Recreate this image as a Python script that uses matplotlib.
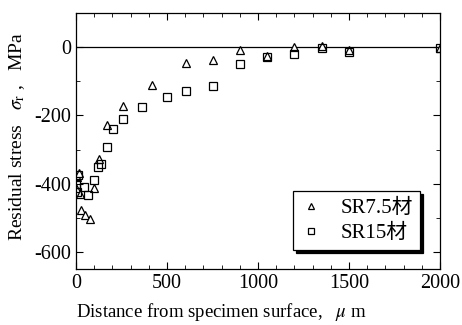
import matplotlib.pyplot as plt
from matplotlib.ticker import MultipleLocator

plt.rcParams['font.family'] = ['Liberation Serif', 'Noto Sans CJK JP']
plt.rcParams['mathtext.fontset'] = 'stix'
plt.rcParams['axes.unicode_minus'] = False

# SR7.5 (triangles)
sr75_x = [0, 5, 15, 20, 30, 50, 75, 100, 128, 172, 260, 415, 602, 750, 900, 1048, 1200, 1350, 1500, 2000]
sr75_y = [-412, -380, -370, -430, -478, -492, -502, -413, -328, -228, -172, -112, -47, -37, -8, -25, -1, 4, -8, -3]

# SR15 (squares)
sr15_x = [0, 5, 10, 45, 68, 98, 120, 140, 172, 205, 260, 365, 502, 602, 750, 900, 1048, 1200, 1350, 1500, 2000]
sr15_y = [-400, -425, -375, -410, -434, -389, -350, -341, -291, -240, -210, -174, -145, -128, -114, -48, -30, -20, -3, -14, -3]

fig = plt.figure(figsize=(4.62, 3.25), dpi=100)
ax = fig.add_axes([0.1645, 0.172, 0.788, 0.788])

ax.axhline(0, color='black', lw=0.9)
ax.plot(sr75_x, sr75_y, ls='none', marker='^', ms=6, mfc='white', mec='black', mew=0.9, label='SR7.5材')
ax.plot(sr15_x, sr15_y, ls='none', marker='s', ms=6, mfc='none', mec='black', mew=0.9, label='SR15材')

ax.set_xlim(0, 2000)
ax.set_ylim(-650, 100)
ax.xaxis.set_major_locator(MultipleLocator(500))
ax.xaxis.set_minor_locator(MultipleLocator(100))
ax.yaxis.set_major_locator(MultipleLocator(200))
ax.yaxis.set_minor_locator(MultipleLocator(100))
ax.tick_params(which='both', direction='in', top=True, right=True, labelsize=14.5)
ax.tick_params(which='major', length=5)
ax.tick_params(which='minor', length=3)
for s in ax.spines.values():
    s.set_linewidth(0.9)

ax.set_xlabel('Distance from specimen surface,   $\\mu$ m', fontsize=13.5)
ax.xaxis.set_label_coords(0.40, -0.125)
ax.set_ylabel('Residual stress   $\\sigma_{\\rm r}$ ,   MPa', fontsize=14)
ax.yaxis.set_label_coords(-0.135, 0.52)

leg = ax.legend(loc='lower right', bbox_to_anchor=(0.945, 0.074), frameon=True, fancybox=False,
                shadow={'color': 'black', 'alpha': 1}, fontsize=15, markerscale=0.7, handlelength=1.0,
                borderpad=0.35, labelspacing=0.25, handletextpad=0.9, borderaxespad=0)
leg.get_frame().set_edgecolor('black')
leg.get_frame().set_linewidth(0.9)

fig.savefig('out.png', dpi=100)
